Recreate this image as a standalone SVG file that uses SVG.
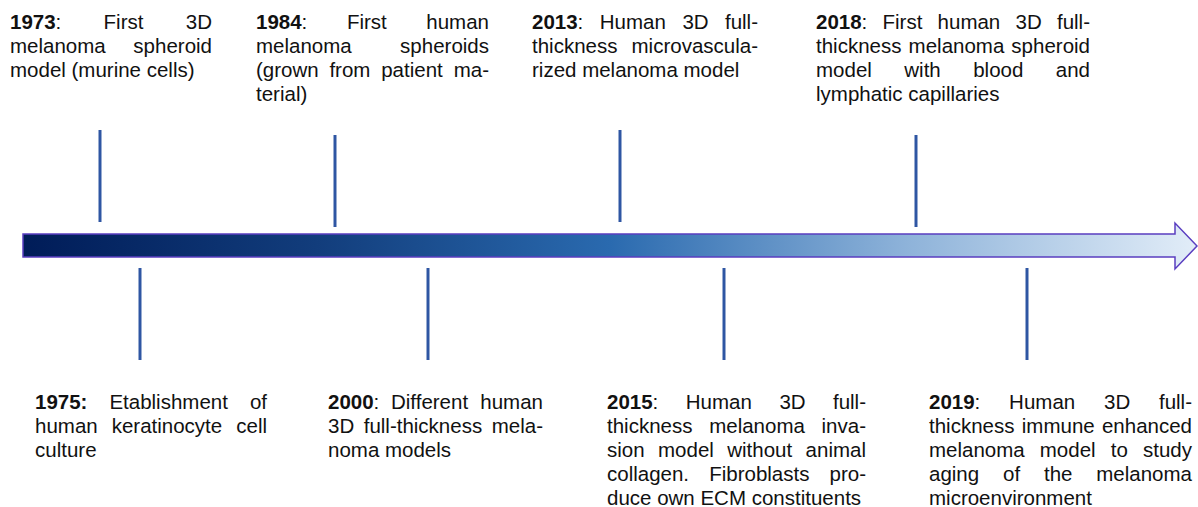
<svg xmlns="http://www.w3.org/2000/svg" width="1198" height="507" viewBox="0 0 1198 507">
  <defs>
    <linearGradient id="axisFill" x1="23" y1="0" x2="1197" y2="0" gradientUnits="userSpaceOnUse">
      <stop offset="0" stop-color="#001c58"/>
      <stop offset="0.25" stop-color="#123d7c"/>
      <stop offset="0.5" stop-color="#2a6aaf"/>
      <stop offset="0.75" stop-color="#8db2d9"/>
      <stop offset="1" stop-color="#e2edf8"/>
    </linearGradient>
    <style>
      .t { font-family: "Liberation Sans", Arial, sans-serif; font-size: 20.5px; fill: #111; }
      .b { font-weight: bold; }
      .e { text-anchor: end; }
      .tick { stroke: #2f56a3; stroke-width: 3; fill: none; }
    </style>
  </defs>
  <rect width="1198" height="507" fill="#fff"/>

  <!-- timeline arrow -->
  <g id="timeline">
    <polygon points="23,234 1175,234 1175,223 1197,246 1175,269 1175,257 23,257" fill="url(#axisFill)" stroke="#5a3ec0" stroke-width="1.5" stroke-linejoin="miter"/>
  </g>

  <!-- ticks linking each milestone to the axis -->
  <g id="connectors">
    <line class="tick" x1="100" y1="130" x2="100" y2="222"/>
    <line class="tick" x1="335" y1="135" x2="335" y2="227"/>
    <line class="tick" x1="620" y1="130" x2="620" y2="222"/>
    <line class="tick" x1="916" y1="135" x2="916" y2="227"/>
    <line class="tick" x1="140" y1="268" x2="140" y2="360"/>
    <line class="tick" x1="428" y1="268" x2="428" y2="360"/>
    <line class="tick" x1="724" y1="268" x2="724" y2="360"/>
    <line class="tick" x1="1027" y1="268" x2="1027" y2="360"/>
  </g>

  <g id="m1973">
    <text class="t" x="10" y="29"><tspan class="b">1973</tspan>:</text>
    <text class="t" x="103.6" y="29">First</text>
    <text class="t e" x="212" y="29">3D</text>
    <text class="t" x="10" y="53">melanoma</text>
    <text class="t e" x="212" y="53">spheroid</text>
    <text class="t" x="10" y="77">model (murine cells)</text>
  </g>

  <g id="m1984">
    <text class="t" x="256" y="29"><tspan class="b">1984</tspan>:</text>
    <text class="t" x="346.9" y="29">First</text>
    <text class="t e" x="489" y="29">human</text>
    <text class="t" x="256" y="53">melanoma</text>
    <text class="t e" x="489" y="53">spheroids</text>
    <text class="t" x="256" y="77">(grown</text>
    <text class="t" x="329.4" y="77">from</text>
    <text class="t" x="381.2" y="77">patient</text>
    <text class="t e" x="489" y="77">ma-</text>
    <text class="t" x="256" y="101">terial)</text>
  </g>

  <g id="m2013">
    <text class="t" x="532" y="29"><tspan class="b">2013</tspan>:</text>
    <text class="t" x="599.8" y="29">Human</text>
    <text class="t" x="682.4" y="29">3D</text>
    <text class="t e" x="758" y="29">full-</text>
    <text class="t" x="532" y="53">thickness</text>
    <text class="t e" x="758" y="53">microvascula-</text>
    <text class="t" x="532" y="77">rized melanoma model</text>
  </g>

  <g id="m2018">
    <text class="t" x="816" y="29"><tspan class="b">2018</tspan>:</text>
    <text class="t" x="882.5" y="29">First</text>
    <text class="t" x="937.6" y="29">human</text>
    <text class="t" x="1015.5" y="29">3D</text>
    <text class="t e" x="1090" y="29">full-</text>
    <text class="t" x="816" y="53">thickness</text>
    <text class="t" x="908.6" y="53">melanoma</text>
    <text class="t e" x="1090" y="53">spheroid</text>
    <text class="t" x="816" y="77">model</text>
    <text class="t" x="904.3" y="77">with</text>
    <text class="t" x="973.2" y="77">blood</text>
    <text class="t e" x="1090" y="77">and</text>
    <text class="t" x="816" y="101">lymphatic capillaries</text>
  </g>

  <g id="m1975">
    <text class="t b" x="35" y="409">1975:</text>
    <text class="t" x="109.4" y="409">Etablishment</text>
    <text class="t e" x="267" y="409">of</text>
    <text class="t" x="35" y="433">human</text>
    <text class="t" x="111.7" y="433">keratinocyte</text>
    <text class="t e" x="267" y="433">cell</text>
    <text class="t" x="35" y="457">culture</text>
  </g>

  <g id="m2000">
    <text class="t" x="328" y="409"><tspan class="b">2000</tspan>:</text>
    <text class="t" x="391" y="409">Different</text>
    <text class="t e" x="543" y="409">human</text>
    <text class="t" x="328" y="433">3D</text>
    <text class="t" x="363.7" y="433">full-thickness</text>
    <text class="t e" x="543" y="433">mela-</text>
    <text class="t" x="328" y="457">noma models</text>
  </g>

  <g id="m2015">
    <text class="t" x="607" y="409"><tspan class="b">2015</tspan>:</text>
    <text class="t" x="685.8" y="409">Human</text>
    <text class="t" x="779.4" y="409">3D</text>
    <text class="t e" x="866" y="409">full-</text>
    <text class="t" x="607" y="433">thickness</text>
    <text class="t" x="709.2" y="433">melanoma</text>
    <text class="t e" x="866" y="433">inva-</text>
    <text class="t" x="607" y="457">sion</text>
    <text class="t" x="658" y="457">model</text>
    <text class="t" x="727.2" y="457">without</text>
    <text class="t e" x="866" y="457">animal</text>
    <text class="t" x="607" y="481">collagen.</text>
    <text class="t" x="709.2" y="481">Fibroblasts</text>
    <text class="t e" x="866" y="481">pro-</text>
    <text class="t" x="607" y="505">duce own ECM constituents</text>
  </g>

  <g id="m2019">
    <text class="t" x="929" y="409"><tspan class="b">2019</tspan>:</text>
    <text class="t" x="1009.1" y="409">Human</text>
    <text class="t" x="1104" y="409">3D</text>
    <text class="t e" x="1192" y="409">full-</text>
    <text class="t" x="929" y="433">thickness</text>
    <text class="t" x="1021.8" y="433">immune</text>
    <text class="t e" x="1192" y="433">enhanced</text>
    <text class="t" x="929" y="457">melanoma</text>
    <text class="t" x="1039.8" y="457">model</text>
    <text class="t" x="1110.7" y="457">to</text>
    <text class="t e" x="1192" y="457">study</text>
    <text class="t" x="929" y="481">aging</text>
    <text class="t" x="1003" y="481">of</text>
    <text class="t" x="1044" y="481">the</text>
    <text class="t e" x="1192" y="481">melanoma</text>
    <text class="t" x="929" y="505">microenvironment</text>
  </g>
</svg>
